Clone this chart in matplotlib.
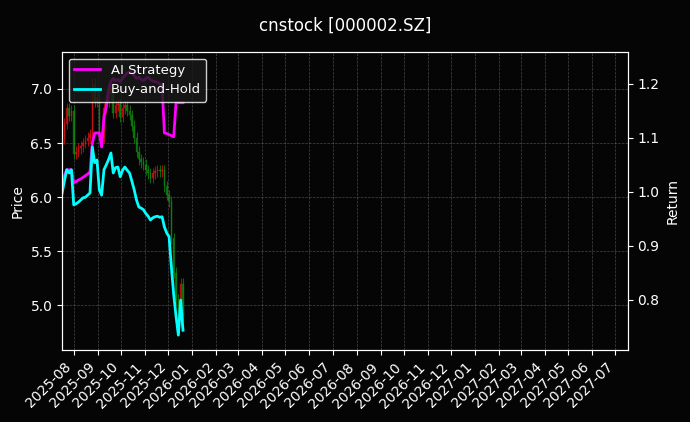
import matplotlib
matplotlib.use("Agg")
import matplotlib.pyplot as plt
import matplotlib.dates as mdates
import numpy as np
import pandas as pd

dates = pd.date_range("2025-07-17", periods=53, freq="3D")

close = [6.54, 6.68, 6.82, 6.75, 6.80, 6.40, 6.42, 6.45, 6.47, 6.50, 6.52, 6.55, 6.58,
         7.05, 6.88, 6.92, 6.60, 6.55, 6.82, 6.88, 6.95, 7.02, 6.78, 6.85, 6.86, 6.74,
         6.82, 6.85, 6.80, 6.76, 6.66, 6.55, 6.42, 6.35, 6.32, 6.30, 6.25, 6.22, 6.18,
         6.22, 6.24, 6.25, 6.24, 6.25, 6.10, 6.02, 5.96, 5.62, 5.30, 5.05, 4.85, 5.20, 4.90]
open_ = [6.50] + close[:-1]

bh = [0.998, 1.02, 1.041, 1.035, 1.041, 0.976, 0.978, 0.981, 0.985, 0.989, 0.990, 0.994,
      0.998, 1.083, 1.054, 1.059, 1.004, 0.994, 1.041, 1.05, 1.06, 1.072, 1.035, 1.045,
      1.046, 1.028, 1.04, 1.046, 1.04, 1.035, 1.02, 1.004, 0.985, 0.972, 0.97, 0.967,
      0.96, 0.955, 0.948, 0.952, 0.954, 0.955, 0.953, 0.954, 0.935, 0.924, 0.917, 0.861,
      0.81, 0.77, 0.735, 0.800, 0.744]

ai = [1.009, 1.03, 1.041, 1.041, 1.041, 1.017, 1.019, 1.022, 1.024, 1.027, 1.030, 1.033,
      1.037, 1.09, 1.109, 1.109, 1.109, 1.083, 1.139, 1.157, 1.19, 1.205,
      1.21, 1.206, 1.208, 1.204, 1.21, 1.215, 1.22, 1.222, 1.22, 1.215, 1.21, 1.212,
      1.208, 1.206, 1.21, 1.212, 1.208, 1.205, 1.204, 1.203, 1.20, 1.195,
      1.109, 1.108, 1.106, 1.104, 1.102, 1.165, 1.165]
ai = ai + [1.165] * (len(bh) - len(ai))

bg = "#050505"
fig = plt.figure(figsize=(6.9, 4.22), dpi=100, facecolor=bg)
ax1 = fig.add_axes([0.09, 0.17, 0.82, 0.707], facecolor=bg)
ax2 = ax1.twinx()

xn = mdates.date2num(dates)
w = 2.0
for x, o, c in zip(xn, open_, close):
    col = "#d01010" if c >= o else "#108010"
    hi = max(o, c) + 0.05
    lo = min(o, c) - 0.05
    ax1.vlines(x, lo, hi, color=col, lw=0.8, alpha=0.8)
    ax1.bar(x, abs(c - o) if abs(c - o) > 0.01 else 0.01, bottom=min(o, c), width=w,
            color=col, alpha=0.8, edgecolor=col, lw=0.3)

ax2.plot(dates, ai, color="#ff00ff", lw=2, label="AI Strategy")
ax2.plot(dates, bh, color="#00ffff", lw=2, label="Buy-and-Hold")

start = pd.Timestamp("2025-07-17")
ax1.set_xlim(mdates.date2num(start), mdates.date2num(pd.Timestamp("2027-07-17")))
ax1.set_ylim(4.583, 7.343)
ax2.set_ylim(0.707, 1.259)

ax1.xaxis.set_major_locator(mdates.MonthLocator())
ax1.xaxis.set_major_formatter(mdates.DateFormatter("%Y-%m"))
for lab in ax1.get_xticklabels():
    lab.set_rotation(45)
    lab.set_ha("right")

ax1.grid(True, color="#888888", ls="--", lw=0.5, alpha=0.5)
for ax in (ax1, ax2):
    ax.tick_params(colors="white", labelsize=10)
    for s in ax.spines.values():
        s.set_color("white")
ax1.set_ylabel("Price", color="white")
ax2.set_ylabel("Return", color="white")
fig.suptitle("cnstock [000002.SZ]", color="white", fontsize=12, y=0.96)

leg = ax2.legend(loc="upper left", facecolor="#1a1a1a", edgecolor="white", fontsize=9.5,
                 handlelength=2.0, framealpha=0.8)
for t in leg.get_texts():
    t.set_color("white")

fig.savefig("out.png", dpi=100, facecolor=bg)
